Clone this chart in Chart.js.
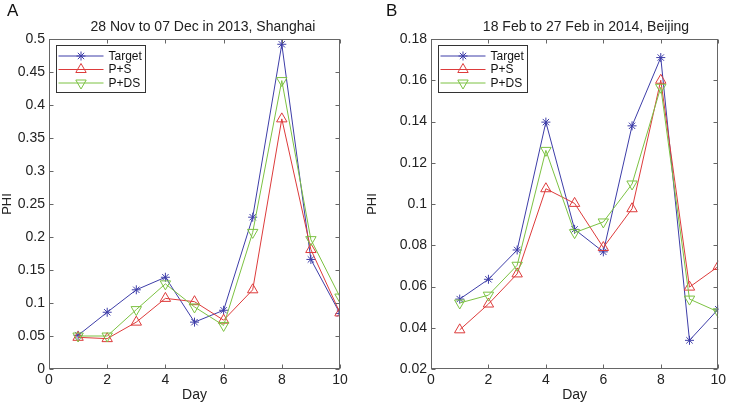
<!DOCTYPE html>
<html>
<head>
<meta charset="utf-8">
<script src="https://cdn.jsdelivr.net/npm/chart.js@4.4.0/dist/chart.umd.min.js"></script>
<style>
  body { margin: 0; background: #fff; font-family: "Liberation Sans", Arial, sans-serif; }
  #wrap { position: relative; width: 729px; height: 404px; overflow: hidden; }
  canvas { position: absolute; top: 0; }
  .title { position: absolute; top: 18px; font-size: 14px; line-height: 16px; color: #222; white-space: nowrap; transform: translateX(-50%); }
  .letter { position: absolute; top: 2px; font-size: 17px; line-height: 17px; color: #111; }
</style>
</head>
<body>
<div id="wrap">
  <canvas id="chartA" width="365" height="404" style="left:0"></canvas>
  <canvas id="chartB" width="364" height="404" style="left:365px"></canvas>
  <div class="letter" style="left:7px">A</div>
  <div class="letter" style="left:386px">B</div>
  <div class="title" style="left:203px">28 Nov to 07 Dec in 2013, Shanghai</div>
  <div class="title" style="left:586px">18 Feb to 27 Feb in 2014, Beijing</div>
</div>
<script>
// data
const days = [1, 2, 3, 4, 5, 6, 7, 8, 9, 10];
const seriesNames = ["Target", "P+S", "P+DS"];

const targetA = [0.051, 0.086, 0.120, 0.139, 0.071, 0.089, 0.230, 0.492, 0.166, 0.084];
const psA     = [0.048, 0.046, 0.071, 0.107, 0.102, 0.074, 0.120, 0.379, 0.181, 0.085];
const pdsA    = [0.050, 0.050, 0.090, 0.129, 0.094, 0.066, 0.207, 0.437, 0.196, 0.109];

const targetB = [0.0539, 0.0635, 0.0777, 0.1397, 0.0877, 0.0768, 0.1379, 0.171, 0.0339, 0.049];
const psB     = [0.039, 0.0515, 0.0661, 0.1074, 0.1003, 0.0789, 0.0977, 0.160, 0.0597, 0.0697];
const pdsB    = [0.052, 0.0558, 0.0703, 0.126, 0.0861, 0.0913, 0.1097, 0.1566, 0.0539, 0.0477];

const xTicks  = [0, 2, 4, 6, 8, 10];
const yTicksA = [0, 0.05, 0.1, 0.15, 0.2, 0.25, 0.3, 0.35, 0.4, 0.45, 0.5];
const yTicksB = [0.02, 0.04, 0.06, 0.08, 0.1, 0.12, 0.14, 0.16, 0.18];

const FONT = "'Liberation Sans', Arial, sans-serif";
const AXIS_COLOR = "#666";

// box around the axes with inward ticks on all four sides
const frame = {
  id: "frame",
  afterDraw(chart) {
    const { ctx, chartArea: a, scales } = chart;
    const L = Math.round(a.left) + 0.5, R = Math.round(a.right) - 0.5;
    const T = Math.round(a.top) + 0.5, B = Math.round(a.bottom) - 0.5;
    ctx.save();
    ctx.strokeStyle = AXIS_COLOR;
    ctx.lineWidth = 1;
    ctx.strokeRect(L, T, R - L, B - T);
    ctx.beginPath();
    scales.x.ticks.forEach(t => {
      const px = Math.round(scales.x.getPixelForValue(t.value)) + 0.5;
      ctx.moveTo(px, B); ctx.lineTo(px, B - 4);
      ctx.moveTo(px, T); ctx.lineTo(px, T + 4);
    });
    scales.y.ticks.forEach(t => {
      const py = Math.round(scales.y.getPixelForValue(t.value)) + 0.5;
      ctx.moveTo(L, py); ctx.lineTo(L + 4, py);
      ctx.moveTo(R, py); ctx.lineTo(R - 4, py);
    });
    ctx.stroke();
    ctx.restore();
  }
};

// legend drawn inside the axes, top-left, like matlab
const boxLegend = {
  id: "boxLegend",
  afterDraw(chart) {
    const { ctx, chartArea: a } = chart;
    const x0 = Math.round(a.left) + 7.5, y0 = Math.round(a.top) + 6.5;
    ctx.save();
    ctx.fillStyle = "#fff";
    ctx.fillRect(x0, y0, 89, 47);
    ctx.strokeStyle = "#333";
    ctx.lineWidth = 1;
    ctx.strokeRect(x0, y0, 89, 47);
    chart.data.datasets.forEach((ds, i) => {
      const yy = y0 + 10.5 + i * 13.5;
      ctx.strokeStyle = ds.borderColor;
      ctx.beginPath();
      ctx.moveTo(x0 + 2, yy);
      ctx.lineTo(x0 + 47, yy);
      ctx.stroke();
      ctx.fillStyle = "rgba(0,0,0,0)";
      Chart.helpers.drawPoint(ctx, {
        pointStyle: ds.pointStyle,
        rotation: ds.pointRotation || 0,
        radius: ds.pointRadius,
        borderWidth: 1
      }, x0 + 24.5, yy);
      ctx.fillStyle = "#111";
      ctx.font = "12px " + FONT;
      ctx.textBaseline = "middle";
      ctx.fillText(ds.label, x0 + 52, yy + 0.5);
    });
    ctx.restore();
  }
};

function pts(vals) {
  return days.map((d, i) => ({ x: d, y: vals[i] }));
}

function fmt(v) {
  return String(Number(v.toFixed(4)));
}

function makeChart(id, target, ps, pds, yTicks, yWidth, padRight) {
  return new Chart(document.getElementById(id), {
    type: "line",
    data: {
      datasets: [
        {
          label: seriesNames[0], data: pts(target), order: 3,
          borderColor: "#3d3da8", backgroundColor: "rgba(0,0,0,0)",
          borderWidth: 1, pointStyle: "star", pointRadius: 4.5,
          pointBorderWidth: 1, pointBorderColor: "#3d3da8"
        },
        {
          label: seriesNames[1], data: pts(ps), order: 2,
          borderColor: "#dd3b3b", backgroundColor: "rgba(0,0,0,0)",
          borderWidth: 1, pointStyle: "triangle", pointRadius: 6,
          pointBorderWidth: 1, pointBorderColor: "#dd3b3b", pointBackgroundColor: "rgba(0,0,0,0)"
        },
        {
          label: seriesNames[2], data: pts(pds), order: 1,
          borderColor: "#7cc242", backgroundColor: "rgba(0,0,0,0)",
          borderWidth: 1, pointStyle: "triangle", pointRotation: 180, pointRadius: 6,
          pointBorderWidth: 1, pointBorderColor: "#7cc242", pointBackgroundColor: "rgba(0,0,0,0)"
        }
      ]
    },
    options: {
      responsive: false,
      devicePixelRatio: 1,
      animation: false,
      events: [],
      layout: { padding: { left: 0, top: 39, right: padRight, bottom: 0 } },
      plugins: { legend: { display: false }, tooltip: { enabled: false }, title: { display: false } },
      elements: { line: { tension: 0 } },
      scales: {
        x: {
          type: "linear", min: 0, max: 10,
          afterBuildTicks: s => { s.ticks = xTicks.map(v => ({ value: v })); },
          afterFit: s => { s.height = 35; },
          grid: { display: false, drawTicks: false },
          border: { display: false },
          ticks: { color: "#222", padding: 3, maxRotation: 0, font: { family: FONT, size: 14 }, callback: v => fmt(v) },
          title: { display: true, text: "Day", color: "#222", padding: { top: 0, bottom: 0 }, font: { family: FONT, size: 14 } }
        },
        y: {
          min: yTicks[0], max: yTicks[yTicks.length - 1],
          afterBuildTicks: s => { s.ticks = yTicks.map(v => ({ value: v })); },
          afterFit: s => { s.width = yWidth; },
          grid: { display: false, drawTicks: false },
          border: { display: false },
          ticks: { color: "#222", padding: 4, font: { family: FONT, size: 14 }, callback: v => fmt(v) },
          title: { display: true, text: "PHI", color: "#222", padding: { top: 0, bottom: 0 }, font: { family: FONT, size: 13 } }
        }
      }
    },
    plugins: [frame, boxLegend]
  });
}

makeChart("chartA", targetA, psA, pdsA, yTicksA, 49, 25);
makeChart("chartB", targetB, psB, pdsB, yTicksB, 66, 8);
</script>
</body>
</html>
